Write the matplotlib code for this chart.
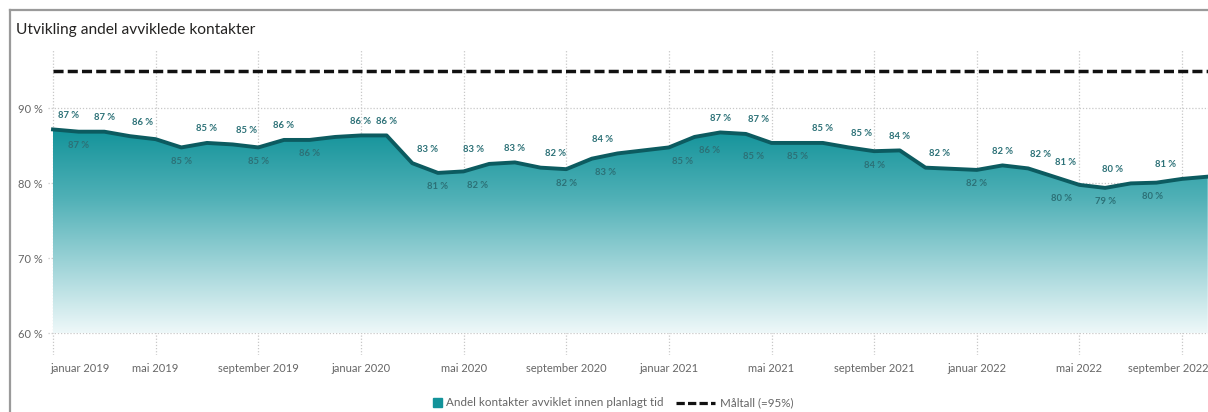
import numpy as np
import matplotlib
matplotlib.use("Agg")
import matplotlib.pyplot as plt
from matplotlib.colors import LinearSegmentedColormap
from matplotlib.patches import Rectangle
from matplotlib.lines import Line2D

# ---------------- data ----------------
months = ["januar 2019", "februar 2019", "mars 2019", "april 2019", "mai 2019", "juni 2019",
          "juli 2019", "august 2019", "september 2019", "oktober 2019", "november 2019", "desember 2019",
          "januar 2020", "februar 2020", "mars 2020", "april 2020", "mai 2020", "juni 2020",
          "juli 2020", "august 2020", "september 2020", "oktober 2020", "november 2020", "desember 2020",
          "januar 2021", "februar 2021", "mars 2021", "april 2021", "mai 2021", "juni 2021",
          "juli 2021", "august 2021", "september 2021", "oktober 2021", "november 2021", "desember 2021",
          "januar 2022", "februar 2022", "mars 2022", "april 2022", "mai 2022", "juni 2022",
          "juli 2022", "august 2022", "september 2022", "oktober 2022"]
andel = [87.2, 86.9, 86.9, 86.3, 85.9, 84.8, 85.4, 85.2, 84.8, 85.8, 85.8, 86.2,
         86.4, 86.4, 82.7, 81.4, 81.6, 82.6, 82.8, 82.1, 81.9, 83.3, 84.0, 84.4,
         84.8, 86.2, 86.8, 86.6, 85.4, 85.4, 85.4, 84.8, 84.3, 84.4, 82.1, 81.95,
         81.8, 82.4, 82.0, 80.9, 79.8, 79.4, 80.0, 80.1, 80.6, 80.9]
maltall = [95.0] * len(months)
y_ticks = [60, 70, 80, 90]
x_tick_idx = list(range(0, len(months), 4))

# label placement (style): 1 above, -1 below, 0 none; horizontal shift in px
lab_pos = [1, -1, 1, 1, 0, -1, 1, 1, -1, 1, -1, 0,
           1, 1, 1, -1, -1, 1, 1, 1, -1, -1, 1, 0,
           -1, -1, 1, 1, -1, -1, 1, 1, -1, 1, 1, 0,
           -1, 1, 1, 1, -1, -1, 1, -1, 1, 0]
lab_dx = [15, 0, 0, 13, 0, 0, 0, 14, 0, 0, 0, 0,
          0, 0, 15, 0, 14, -16, 0, 15, 0, 14, -15, 0,
          14, 15, 0, 13, -18, 0, 0, 13, 0, 0, 14, 0,
          0, 0, 12, 12, -18, 0, -18, -4, -17, 0]

W, H = 1208, 412
fig = plt.figure(figsize=(W / 100, H / 100), dpi=100)
FONT = "Lato"

def fx(x):
    return x / W

def fy(y):
    return 1 - y / H

ax_left, ax_right, ax_top, ax_bot = 48, 1208, 50, 355
ax = fig.add_axes([fx(ax_left), fy(ax_bot), fx(ax_right - ax_left), (ax_bot - ax_top) / H])

x = np.arange(len(months))
y = np.array(andel)

ax.set_xlim(-0.195, 45.01)
ax.set_ylim(57.1, 97.8)

# gradient fill
cmap = LinearSegmentedColormap.from_list("g", ["#eef8f9", "#9fd4d8", "#4fb0b6", "#13939a"])
poly = ax.fill_between(x, 60, y, facecolor="none", edgecolor="none")
top = y.max()
grad = np.linspace(0, 1, 256).reshape(-1, 1)
im = ax.imshow(grad, extent=[x[0], x[-1], 60, top], origin="lower", aspect="auto",
               cmap=cmap, zorder=1, interpolation="bicubic")
im.set_clip_path(poly.get_paths()[0], transform=ax.transData)

ax.plot(x, y, color="#0c5b60", lw=2.8, solid_joinstyle="round", zorder=3)
ax.plot(x, maltall, color="#111111", lw=2.5, linestyle=(0, (2.9, 1.2)), zorder=3)

# grid
for t in y_ticks:
    ax.axhline(t, color="#c8c8c8", lw=0.9, linestyle=(0, (1, 1.5)), zorder=0.5)
for i in x_tick_idx:
    ax.axvline(i, color="#c8c8c8", lw=0.9, linestyle=(0, (1, 1.5)), zorder=0.5)

for s in ax.spines.values():
    s.set_visible(False)
ax.set_yticks(y_ticks)
ax.set_yticklabels([f"{t} %" for t in y_ticks], fontsize=8, color="#666666", family=FONT)
ax.set_xticks([])
ax.tick_params(axis="y", length=0, pad=4)

# x tick labels
last = x_tick_idx[-1]
for i in x_tick_idx:
    if i == 0:
        ha, dx = "left", -3
    elif i == last:
        ha, dx = "right", 26
    else:
        ha, dx = "center", 0
    ax.annotate(months[i], (i, 57.1), xytext=(dx, -13), textcoords="offset pixels",
                ha=ha, va="center", fontsize=8, color="#666666", family=FONT,
                annotation_clip=False)

# data labels
for i, v in enumerate(andel):
    if lab_pos[i] == 0:
        continue
    ax.annotate(f"{v:.0f} %", (i, v), xytext=(lab_dx[i], 14 * lab_pos[i]),
                textcoords="offset pixels", ha="center", va="center",
                fontsize=6.8, color="#2c7177", family=FONT, fontweight="bold",
                annotation_clip=False, zorder=5)

# title and frame
fig.text(fx(16), fy(30), "Utvikling andel avviklede kontakter", fontsize=11.2,
         color="#252423", family=FONT, va="center", ha="left")
fig.add_artist(Line2D([fx(10), fx(10)], [fy(10), 0], color="#9a9a9a", lw=1.6))
fig.add_artist(Line2D([fx(10), 1], [fy(10), fy(10)], color="#9a9a9a", lw=1.6))

# legend
ly = 402.5
fig.add_artist(Rectangle((fx(433), fy(407)), fx(9), 9 / H, color="#13939a"))
fig.text(fx(446), fy(ly), "Andel kontakter avviklet innen planlagt tid", fontsize=8.4,
         color="#666666", family=FONT, va="center", ha="left")
fig.add_artist(Line2D([fx(676), fx(715)], [fy(ly), fy(ly)], color="#111111", lw=2.3,
                      linestyle=(0, (2.6, 1.0))))
fig.text(fx(720), fy(ly), "Måltall (=95%)", fontsize=8.4, color="#666666", family=FONT,
         va="center", ha="left")

fig.savefig("out.png", dpi=100)
